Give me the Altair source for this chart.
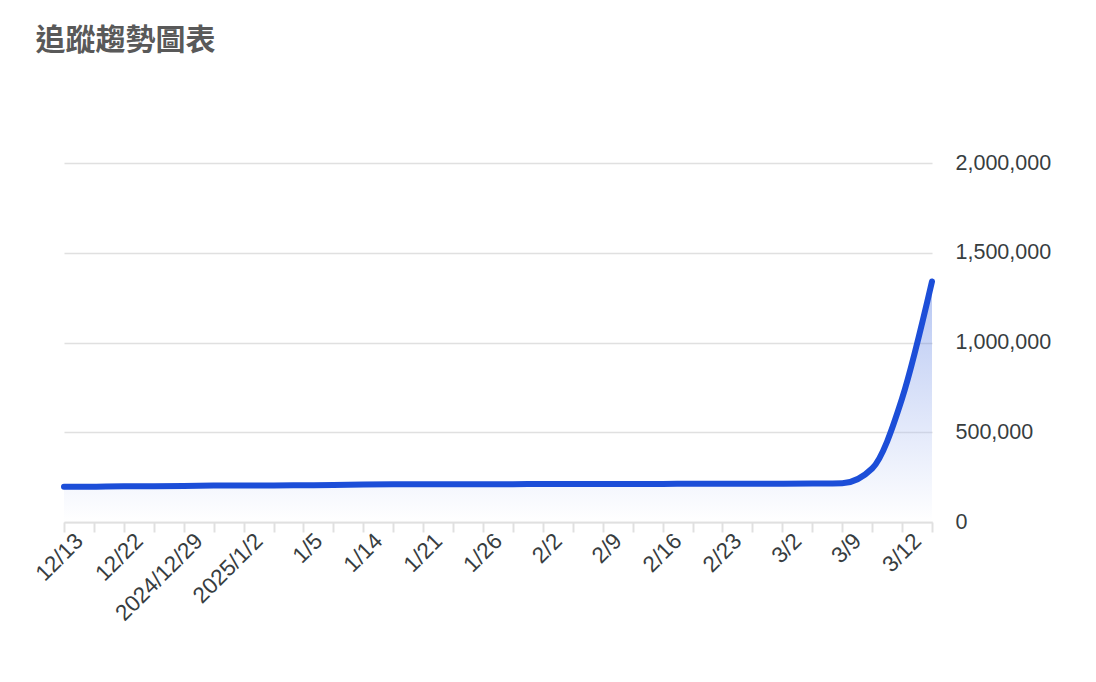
import altair as alt
import pandas as pd

# x-axis labels (shown on every other point)
x_labels = ["12/13", "12/22", "2024/12/29", "2025/1/2", "1/5", "1/14", "1/21",
            "1/26", "2/2", "2/9", "2/16", "2/23", "3/2", "3/9", "3/12"]

# series values, one per point (30 points)
values = [196000, 197000, 199000, 199000, 200000, 203000, 204000, 204000,
          205000, 206000, 209000, 210000, 210000, 210000, 211000, 211000,
          212000, 212000, 212000, 212000, 212000, 213000, 213000, 213000,
          213000, 214000, 216000, 298000, 688000, 1340000]

y_ticks = [0, 500000, 1000000, 1500000, 2000000]

n = len(values)
df = pd.DataFrame({"idx": list(range(n)), "value": values})

# label per tick: labels at even indices, blank otherwise
tick_labels = []
for i in range(n):
    if i % 2 == 0 and i // 2 < len(x_labels):
        tick_labels.append(x_labels[i // 2])
    else:
        tick_labels.append("")
label_expr = "[" + ",".join("'" + t + "'" for t in tick_labels) + "][round(datum.value)] || ''"

FONT = "Liberation Sans, Arial, Helvetica, sans-serif"
LINE = "#1c4ed8"

x_enc = alt.X(
    "idx:Q",
    scale=alt.Scale(domain=[0, n - 1], nice=False, zero=False),
    axis=alt.Axis(
        values=list(range(n)),
        labelExpr=label_expr,
        title=None,
        grid=False,
        domainColor="#e0e0e0",
        domainWidth=2,
        tickColor="#e0e0e0",
        tickWidth=2,
        tickSize=10,
        labelAngle=315,
        labelAlign="right",
        labelBaseline="middle",
        labelOffset=15,
        labelPadding=5,
        labelFontSize=22.5,
        labelFont=FONT,
        labelColor="#373d3f",
        labelOverlap=False,
        labelFlush=False,
        labelBound=False,
    ),
)

y_enc = alt.Y(
    "value:Q",
    scale=alt.Scale(domain=[0, 2000000], nice=False),
    axis=alt.Axis(
        orient="right",
        values=y_ticks,
        format=",d",
        title=None,
        domain=False,
        ticks=False,
        grid=True,
        gridColor="#e0e0e0",
        gridWidth=1.5,
        labelPadding=23,
        labelFontSize=21.5,
        labelFont=FONT,
        labelColor="#373d3f",
    ),
)

gradient = alt.Gradient(
    gradient="linear",
    stops=[
        alt.GradientStop(color=LINE, offset=0),
        alt.GradientStop(color="#ffffff", offset=1),
    ],
    x1=0, x2=0, y1=0, y2=1,
)

area = alt.Chart(df).mark_area(
    interpolate="monotone", color=gradient, opacity=0.32
).encode(x=x_enc, y=y_enc)

line = alt.Chart(df).mark_line(
    interpolate="monotone", color=LINE, strokeWidth=6, strokeCap="round", strokeJoin="round"
).encode(x=x_enc, y=y_enc)

chart = (
    alt.layer(area, line)
    .properties(
        width=868,
        height=359,
        background="white",
        padding={"left": 23, "top": 18, "right": 10, "bottom": 10},
        title=alt.TitleParams(
            text="追蹤趨勢圖表",
            anchor="start",
            frame="bounds",
            font="Noto Sans CJK TC",
            fontSize=30,
            fontWeight="bold",
            color="#595959",
            offset=96,
            dx=4,
        ),
    )
    .configure_view(strokeWidth=0)
)

chart.save("out.html", embed_options={"renderer": "svg", "actions": False})
